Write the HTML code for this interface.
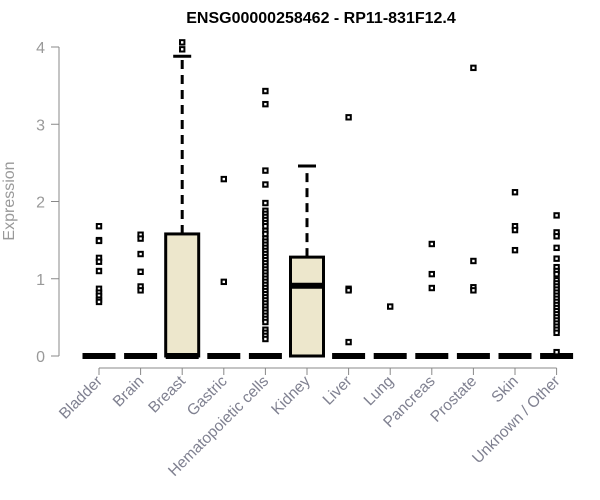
<!DOCTYPE html>
<html><head><meta charset="utf-8"><style>
body{margin:0;background:#fff;}
svg{display:block;font-family:"Liberation Sans",Arial,sans-serif;}
</style></head><body>
<svg id="chart" width="600" height="500" viewBox="0 0 600 500" xmlns="http://www.w3.org/2000/svg">
<text x="321" y="23" text-anchor="middle" font-size="16" font-weight="bold" fill="#000">ENSG00000258462 - RP11-831F12.4</text>
<text transform="translate(14,201) rotate(-90)" text-anchor="middle" font-size="16" fill="#999">Expression</text>
<g id="axes"></g><g id="marks"></g>
</svg>
<script>
const categories=["Bladder","Brain","Breast","Gastric","Hematopoietic cells","Kidney","Liver","Lung","Pancreas","Prostate","Skin","Unknown / Other"];
const q1=[0,0,0,0,0,0,0,0,0,0,0,0];
const medians=[0,0,0,0,0,0.91,0,0,0,0,0,0];
const q3=[0,0,1.58,0,0,1.28,0,0,0,0,0,0];
const whiskerHigh=[0,0,3.88,0,0,2.46,0,0,0,0,0,0];
const outliers=[
[1.68,1.5,1.49,1.27,1.22,1.1,0.87,0.82,0.78,0.73,0.7],
[1.57,1.52,1.32,1.09,0.9,0.85],
[4.06,3.97],
[2.29,0.96],
[3.43,3.26,2.4,2.22,1.98,1.88,1.84,1.8,1.76,1.72,1.68,1.62,1.58,1.52,1.48,1.44,1.4,1.36,1.32,1.28,1.24,1.2,1.16,1.12,1.08,1.04,1.0,0.96,0.92,0.88,0.84,0.8,0.76,0.72,0.68,0.64,0.6,0.56,0.52,0.48,0.44,0.34,0.3,0.26,0.22],
[],
[3.09,0.87,0.85,0.18],
[0.64],
[1.45,1.06,0.88],
[3.73,1.23,0.89,0.85],
[2.12,1.68,1.63,1.37],
[1.82,1.6,1.55,1.4,1.26,1.15,1.1,1.06,0.98,0.94,0.9,0.86,0.82,0.78,0.74,0.7,0.66,0.62,0.58,0.54,0.5,0.46,0.42,0.38,0.34,0.3,0.05]
];
const yTicks=[0,1,2,3,4];
const NS="http://www.w3.org/2000/svg";
const yS=v=>356-v*77.25;
const xS=i=>99+i*41.6;
const BW=33;
const axes=document.getElementById('axes'),marks=document.getElementById('marks');
function mk(tag,at,parent){const e=document.createElementNS(NS,tag);for(const k in at)e.setAttribute(k,at[k]);parent.appendChild(e);return e;}
let e=mk('line',{x1:59,x2:59,y1:yS(4),y2:yS(0),stroke:'#888'},axes);


yTicks.forEach(t=>{
 let l=mk('line',{x1:51,x2:59,y1:yS(t),y2:yS(t),stroke:'#888'},axes);
 
 
 let tx=mk('text',{x:45,y:yS(t)+6,'text-anchor':'end','font-size':'16',fill:'#999'},axes);tx.textContent=t;
 
 
});
e=mk('line',{x1:xS(0),x2:xS(11),y1:368,y2:368,stroke:'#888'},axes);


categories.forEach((c,i)=>{
 const x=xS(i);
 let l=mk('line',{x1:x,x2:x,y1:368,y2:375,stroke:'#888'},axes);
 
 
 let tx=mk('text',{transform:`translate(${x+4},${382}) rotate(-45)`,'text-anchor':'end','font-size':'15.5',fill:'#7f8090'},axes);tx.textContent=c;
 
 
 const g=mk('g',{},marks);
 
 
 if(whiskerHigh[i]>q3[i]){
  mk('line',{x1:x,x2:x,y1:yS(q3[i]),y2:yS(whiskerHigh[i]),stroke:'#000','stroke-width':3,'stroke-dasharray':'9,6'},g);
  mk('line',{x1:x-9,x2:x+9,y1:yS(whiskerHigh[i]),y2:yS(whiskerHigh[i]),stroke:'#000','stroke-width':3},g);
 }
 if(q3[i]>q1[i]) mk('rect',{x:x-BW/2,y:yS(q3[i]),width:BW,height:yS(q1[i])-yS(q3[i]),fill:'#ede7cc',stroke:'#000','stroke-width':3},g);
 mk('line',{x1:x-BW/2,x2:x+BW/2,y1:yS(medians[i]),y2:yS(medians[i]),stroke:'#000','stroke-width':6},g);
 outliers[i].forEach(v=>{
  let p=mk('rect',{x:x-2.2,y:yS(v)-2.2,width:4.4,height:4.4,fill:'#fff',stroke:'#000','stroke-width':2},g);
  
  
 });
});
</script>
</body></html>
